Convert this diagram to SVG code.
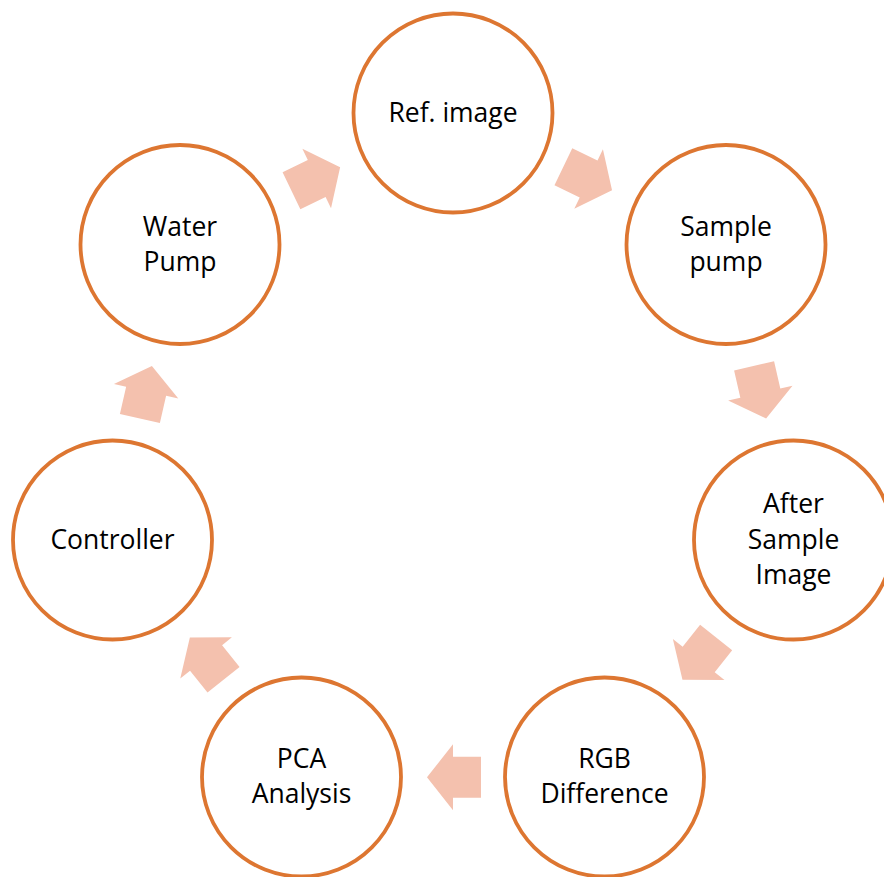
<svg xmlns="http://www.w3.org/2000/svg" width="884" height="877" viewBox="0 0 884 877">
<style>
.node circle{fill:#FFFFFF;stroke:#DD7631;stroke-width:3.8}
.node text{font-family:"Open Sans","Liberation Sans",sans-serif;font-size:26.5px;fill:#000000;text-anchor:middle}
.arr{fill:#F4C1AE}
</style>
<defs>
<path id="ar" d="M -27 -20.5 H 1 V -33 L 27 0 L 1 33 V 20.5 H -27 Z"/>
</defs>
<rect width="884" height="877" fill="#FFFFFF"/>
<g id="connectors">
<use href="#ar" class="arr" transform="translate(587.7 178.5) rotate(25.71)"/>
<use href="#ar" class="arr" transform="translate(760.1 392.2) rotate(77.14)"/>
<use href="#ar" class="arr" transform="translate(699.3 658.7) rotate(128.57)"/>
<use href="#ar" class="arr" transform="translate(454 777.3) rotate(180)"/>
<use href="#ar" class="arr" transform="translate(206.7 658.7) rotate(231.43)"/>
<use href="#ar" class="arr" transform="translate(145.9 392.2) rotate(282.86)"/>
<use href="#ar" class="arr" transform="translate(315.8 179) rotate(334.29)"/>
</g>
<g id="ref" class="node"><circle cx="453" cy="113" r="99.5"/><text x="453" y="122">Ref. image</text></g>
<g id="sample" class="node"><circle cx="726" cy="244.5" r="99.5"/><text x="726" y="236">Sample</text><text x="726" y="271">pump</text></g>
<g id="after" class="node"><circle cx="793.5" cy="540" r="99.5"/><text x="793.5" y="513">After</text><text x="793.5" y="549">Sample</text><text x="793.5" y="584">Image</text></g>
<g id="rgb" class="node"><circle cx="604.5" cy="777" r="99.5"/><text x="604.5" y="768">RGB</text><text x="604.5" y="803">Difference</text></g>
<g id="pca" class="node"><circle cx="301.5" cy="777" r="99.5"/><text x="301.5" y="768">PCA</text><text x="301.5" y="803">Analysis</text></g>
<g id="controller" class="node"><circle cx="112.5" cy="540" r="99.5"/><text x="112.5" y="549">Controller</text></g>
<g id="water" class="node"><circle cx="180" cy="244.5" r="99.5"/><text x="180" y="236">Water</text><text x="180" y="271">Pump</text></g>
</svg>
